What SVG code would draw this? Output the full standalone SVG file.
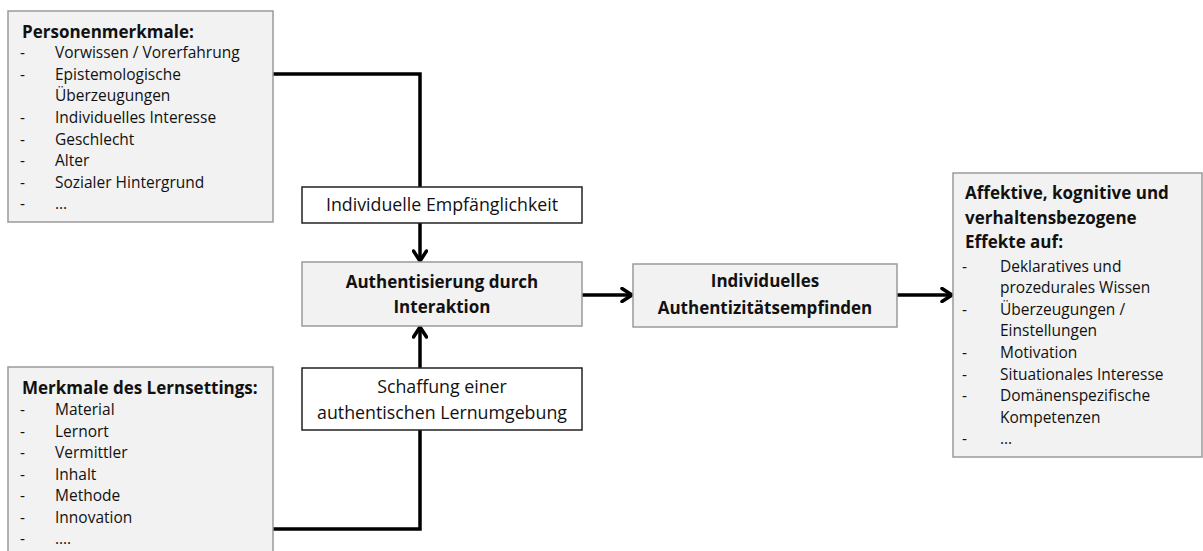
<svg xmlns="http://www.w3.org/2000/svg" width="1203" height="551" viewBox="0 0 1203 551">
<defs>
<style>
.gbox{fill:#f2f2f2;stroke:#9a9a9a;stroke-width:1.5}
.wbox{fill:#ffffff;stroke:#222;stroke-width:1.5}
text{font-family:"Open Sans","Liberation Sans",sans-serif;font-size:15.5px;fill:#111}
.b{font-weight:bold;font-size:17px}
.w{font-size:17.8px}
.c{text-anchor:middle}
.con{fill:none;stroke:#000;stroke-width:3.5}
</style>
<marker id="ah" viewBox="0 0 14 16" refX="12" refY="8" markerWidth="14" markerHeight="16" markerUnits="userSpaceOnUse" orient="auto">
<path d="M2,1.5 L12,8 L2,14.5" fill="none" stroke="#000" stroke-width="3.5" stroke-linecap="round" stroke-linejoin="round"/>
</marker>
</defs>
<rect width="1203" height="551" fill="#fff"/>
<g id="connectors">
<path class="con" d="M273,74 H420 V187"/>
<path class="con" d="M420,223 V261" marker-end="url(#ah)"/>
<path class="con" d="M273,529 H420 V430"/>
<path class="con" d="M420,368 V327" marker-end="url(#ah)"/>
<path class="con" d="M582,295 H632" marker-end="url(#ah)"/>
<path class="con" d="M897,295 H952" marker-end="url(#ah)"/>
</g>
<g id="personenmerkmale">
<rect class="gbox" x="8" y="11" width="265" height="211"/>
<text class="b" x="22" y="38">Personenmerkmale:</text>
<text x="20" y="58">-</text><text x="55" y="58">Vorwissen / Vorerfahrung</text>
<text x="20" y="80">-</text><text x="55" y="80">Epistemologische</text>
<text x="55" y="101">Überzeugungen</text>
<text x="20" y="123">-</text><text x="55" y="123">Individuelles Interesse</text>
<text x="20" y="145">-</text><text x="55" y="145">Geschlecht</text>
<text x="20" y="166">-</text><text x="55" y="166">Alter</text>
<text x="20" y="188">-</text><text x="55" y="188">Sozialer Hintergrund</text>
<text x="20" y="209">-</text><text x="55" y="209">…</text>
</g>
<g id="lernsetting">
<rect class="gbox" x="8" y="367" width="265" height="200"/>
<text class="b" x="22" y="394">Merkmale des Lernsettings:</text>
<text x="20" y="415">-</text><text x="55" y="415">Material</text>
<text x="20" y="437">-</text><text x="55" y="437">Lernort</text>
<text x="20" y="458">-</text><text x="55" y="458">Vermittler</text>
<text x="20" y="480">-</text><text x="55" y="480">Inhalt</text>
<text x="20" y="501">-</text><text x="55" y="501">Methode</text>
<text x="20" y="523">-</text><text x="55" y="523">Innovation</text>
<text x="20" y="544">-</text><text x="55" y="544">….</text>
</g>
<g id="empfaenglichkeit">
<rect class="wbox" x="302" y="187" width="280" height="36"/>
<text class="c w" x="442" y="211">Individuelle Empfänglichkeit</text>
</g>
<g id="authentisierung">
<rect class="gbox" x="302" y="262" width="280" height="64"/>
<text class="b c" x="442" y="288">Authentisierung durch</text>
<text class="b c" x="442" y="313">Interaktion</text>
</g>
<g id="schaffung">
<rect class="wbox" x="302" y="368" width="280" height="62"/>
<text class="c w" x="442" y="393">Schaffung einer</text>
<text class="c w" x="442" y="419">authentischen Lernumgebung</text>
</g>
<g id="authentizitaet">
<rect class="gbox" x="633" y="264" width="264" height="63"/>
<text class="b c" x="765" y="287">Individuelles</text>
<text class="b c" x="765" y="314">Authentizitätsempfinden</text>
</g>
<g id="effekte">
<rect class="gbox" x="953" y="173" width="249" height="284"/>
<text class="b" x="965" y="199">Affektive, kognitive und</text>
<text class="b" x="965" y="224">verhaltensbezogene</text>
<text class="b" x="965" y="248">Effekte auf:</text>
<text x="962" y="272">-</text><text x="1000" y="272">Deklaratives und</text>
<text x="1000" y="293">prozedurales Wissen</text>
<text x="962" y="315">-</text><text x="1000" y="315">Überzeugungen /</text>
<text x="1000" y="336">Einstellungen</text>
<text x="962" y="358">-</text><text x="1000" y="358">Motivation</text>
<text x="962" y="380">-</text><text x="1000" y="380">Situationales Interesse</text>
<text x="962" y="401">-</text><text x="1000" y="401">Domänenspezifische</text>
<text x="1000" y="423">Kompetenzen</text>
<text x="962" y="444">-</text><text x="1000" y="444">…</text>
</g>
</svg>
